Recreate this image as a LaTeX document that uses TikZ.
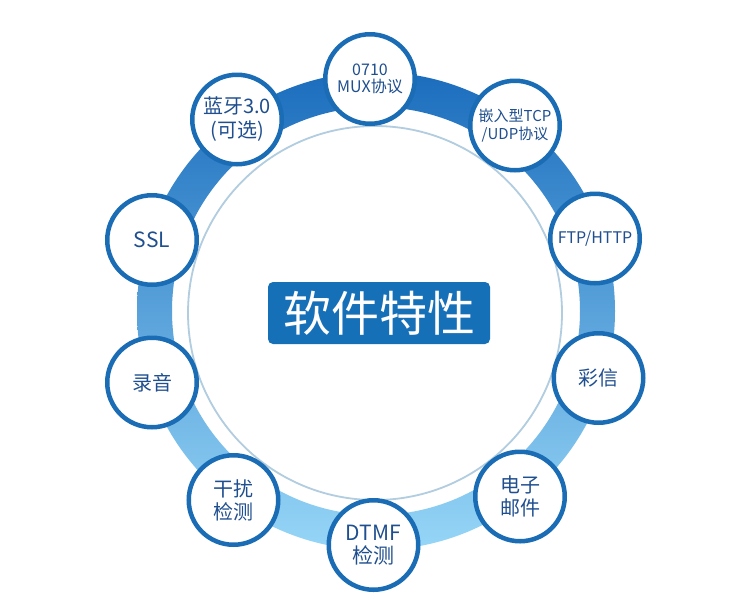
\documentclass[tikz,border=0pt]{standalone}
\usepackage{fontspec}
\setmainfont{Noto Sans CJK SC}
\definecolor{bandtop}{HTML}{1B6DBD}
\definecolor{bandmid}{HTML}{4F9FDA}
\definecolor{bandbot}{HTML}{96D6F7}
\definecolor{ringline}{HTML}{1A6CB5}
\definecolor{txtblue}{HTML}{1F4F8F}
\definecolor{boxblue}{HTML}{1670B8}
\definecolor{thinline}{HTML}{B2CCE0}
\begin{document}
\begin{tikzpicture}[x=1pt,y=-1pt,
  feat/.style={circle, draw=ringline, line width=4.5pt, fill=white,
    minimum size=89.5pt, inner sep=0pt, align=center, text=txtblue,
    font=\fontsize{20}{23}\selectfont},
  small/.style={font=\fontsize{15}{17.5}\selectfont},
  mid/.style={font=\fontsize{16}{17}\selectfont},
  titlebox/.style={rounded corners=5pt, fill=boxblue, text=white,
    minimum width=222pt, minimum height=62pt, inner sep=0pt,
    font=\fontsize{48}{50}\selectfont}]
\useasboundingbox (0,0) rectangle (750,606);
\fill[white] (0,0) rectangle (750,606);
% ring band
\shade[even odd rule, top color=bandtop, middle color=bandmid, bottom color=bandbot]
  (376,311) circle[radius=239pt] (376,311) circle[radius=204pt];
% thin inner circle
\draw[thinline, line width=1.8pt] (375,313) circle[radius=187pt];
% title
\node[titlebox] (title) at (379,313) {软件特性};
% feature circles
\node[feat, mid] (mux) at (370,79) {0710\\MUX协议};
\node[feat, small] (tcp) at (515,125.5) {嵌入型TCP\\/UDP协议};
\node[feat, mid] (ftp) at (595,238.5) {FTP/HTTP};
\node[feat] (mms) at (598.5,378) {彩信};
\node[feat] (mail) at (520,496.5) {电子\\邮件};
\node[feat, font=\fontsize{21}{23}\selectfont] (dtmf) at (373.5,545) {DTMF\\检测};
\node[feat] (jam) at (233.5,500) {干扰\\检测};
\node[feat] (rec) at (152,382.5) {录音};
\node[feat, font=\fontsize{21}{23}\selectfont] (ssl) at (152,240) {SSL};
\node[feat, font=\fontsize{20}{24}\selectfont] (bt) at (237,119.5) {蓝牙3.0\\(可选)};
\end{tikzpicture}
\end{document}
